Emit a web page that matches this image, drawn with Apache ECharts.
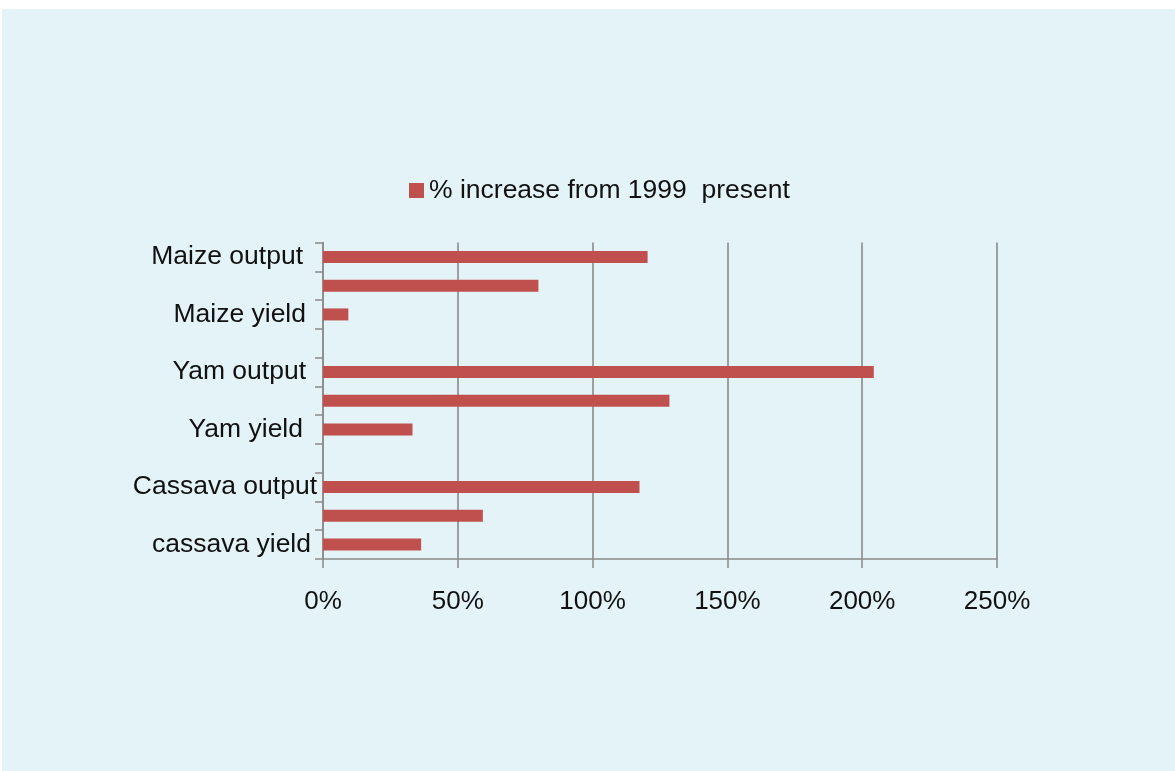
<!DOCTYPE html>
<html>
<head>
<meta charset="utf-8">
<title>% increase from 1999 present</title>
<script src="https://cdn.jsdelivr.net/npm/echarts@6/dist/echarts.min.js"></script>
<style>
  html, body { margin: 0; padding: 0; background: #ffffff; }
  #chart { width: 1175px; height: 771px; }
</style>
</head>
<body>
<div id="chart"></div>
<script>
// Crop rows, top to bottom; blank names are unlabelled rows / spacer rows
const categories = [
  'Maize output', '', 'Maize yield', '',
  'Yam output', '', 'Yam yield', '',
  'Cassava output', '', 'cassava yield'
];
// Percentage increase for each row (null = no bar)
const increase = [120.4, 79.9, 9.4, null, 204.3, 128.5, 33.2, null, 117.4, 59.3, 36.4];
const seriesName = '% increase from 1999  present';
const xTicks = [0, 50, 100, 150, 200, 250];

const FONT = '"Liberation Sans", Arial, sans-serif';
const TEXT = '#111111';

// Right-hand gap of each row label from the axis (label layout only)
const labelGap = [14, 0, 11, 0, 11, 0, 14, 0, 0, 0, 6];
const rich = {};
labelGap.forEach((g, i) => {
  rich['r' + i] = { fontFamily: FONT, fontSize: 26.5, color: TEXT, padding: [0, g, 0, 0] };
});

const chart = echarts.init(document.getElementById('chart'), null, { renderer: 'canvas' });

chart.setOption({
  animation: false,
  backgroundColor: '#ffffff',
  graphic: [{
    type: 'rect',
    left: 2, top: 9,
    shape: { width: 1173, height: 762 },
    style: { fill: '#e4f3f7' },
    z: -10,
    silent: true
  }],
  legend: {
    data: [seriesName],
    left: 409,
    top: 177,
    padding: 0,
    itemWidth: 15,
    itemHeight: 15,
    icon: 'rect',
    textStyle: { fontFamily: FONT, fontSize: 26.5, color: TEXT }
  },
  grid: { left: 323, right: 178, top: 242.5, bottom: 212, containLabel: false },
  xAxis: {
    type: 'value',
    min: xTicks[0],
    max: xTicks[xTicks.length - 1],
    interval: 50,
    axisLine: { show: true, lineStyle: { color: '#8a8a8a', width: 1.5 } },
    axisTick: { show: true, length: 9, lineStyle: { color: '#8a8a8a', width: 1.5 } },
    splitLine: { show: true, lineStyle: { color: '#8a8a8a', width: 1.6 } },
    axisLabel: {
      fontFamily: FONT, fontSize: 26, color: TEXT, margin: 30,
      formatter: v => v + '%'
    }
  },
  yAxis: {
    type: 'category',
    data: categories,
    inverse: true,
    axisLine: { show: true, lineStyle: { color: '#8a8a8a', width: 1.5 } },
    axisTick: { show: true, length: 8, lineStyle: { color: '#8a8a8a', width: 1.5 } },
    splitLine: { show: false },
    axisLabel: {
      interval: 0,
      fontFamily: FONT, fontSize: 26.5, color: TEXT, margin: 6,
      formatter: (value, index) => value ? '{r' + index + '|' + value + '}' : '',
      rich: rich
    }
  },
  series: [{
    name: seriesName,
    type: 'bar',
    data: increase,
    barWidth: 12,
    itemStyle: { color: '#c0504d' }
  }]
});
</script>
</body>
</html>
